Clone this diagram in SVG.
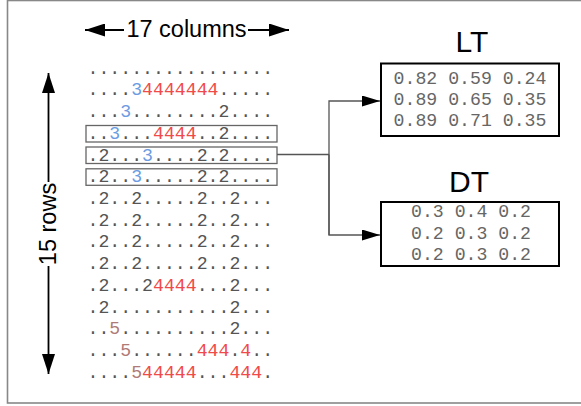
<svg xmlns="http://www.w3.org/2000/svg" width="581" height="406" viewBox="0 0 581 406">
  <style>
    .grid { font-family: "Liberation Mono", "Courier New", monospace; font-size: 18.2px; fill: #555; }
    .dots { fill: #333; }
    .c3 { fill: #6b9be2; }
    .c4 { fill: #f04a4a; }
    .c5 { fill: #b07a76; }
    .mat { font-family: "Liberation Mono", "Courier New", monospace; font-size: 18.2px; fill: #666; text-anchor: middle; }
    .title { font-family: "Liberation Sans", Arial, sans-serif; font-size: 30px; fill: #000; text-anchor: middle; }
    .dim { font-family: "Liberation Sans", Arial, sans-serif; font-size: 23.5px; fill: #000; text-anchor: middle; }
    .rowbox { fill: none; stroke: #666; stroke-width: 1.3; }
    .matbox { fill: #fff; stroke: #000; stroke-width: 2; }
    .conn { fill: none; stroke: #555; stroke-width: 1.3; }
    .dimline { fill: none; stroke: #000; stroke-width: 1.8; }
  </style>
  <defs>
    <marker id="head" viewBox="0 0 18 11" refX="18" refY="5.5" markerWidth="18" markerHeight="11" markerUnits="userSpaceOnUse" orient="auto">
      <path d="M0,0 L18,5.5 L0,11 Z" fill="#000"/>
    </marker>
    <marker id="dimhead" viewBox="0 0 20 13" refX="20" refY="6.5" markerWidth="20" markerHeight="13" markerUnits="userSpaceOnUse" orient="auto">
      <path d="M0,0 L20,6.5 L0,13 Z" fill="#000"/>
    </marker>
  </defs>

  <!-- page frame -->
  <rect x="7.5" y="0.5" width="600" height="402.5" fill="#fff" stroke="#888" stroke-width="1.6"/>

  <!-- dimension: columns -->
  <g id="dim-columns">
    <line class="dimline" x1="124" y1="30" x2="85" y2="30" marker-end="url(#dimhead)"/>
    <line class="dimline" x1="248" y1="30" x2="289" y2="30" marker-end="url(#dimhead)"/>
    <text class="dim" x="186.5" y="37">17 columns</text>
  </g>

  <!-- dimension: rows -->
  <g id="dim-rows">
    <line class="dimline" x1="48.5" y1="182" x2="48.5" y2="73" marker-end="url(#dimhead)"/>
    <line class="dimline" x1="48.5" y1="266" x2="48.5" y2="374" marker-end="url(#dimhead)"/>
    <text class="dim" transform="translate(56,224) rotate(-90)" x="0" y="0">15 rows</text>
  </g>

  <!-- board grid, 17 x 15 -->
  <g id="grid" class="grid">
    <text x="87.5" y="73.5">.................</text>
    <text x="87.5" y="95.2">....<tspan class="c3">3</tspan><tspan class="c4">4444444</tspan>.....</text>
    <text x="87.5" y="117">...<tspan class="c3">3</tspan>........2....</text>
    <text x="87.5" y="138.7">..<tspan class="c3">3</tspan>...<tspan class="c4">4444</tspan>..2....</text>
    <text x="87.5" y="160.5">.2...<tspan class="c3">3</tspan>....2.2....</text>
    <text x="87.5" y="182.2">.2..<tspan class="c3">3</tspan>.....2.2....</text>
    <text x="87.5" y="203.9">.2..2.....2..2...</text>
    <text x="87.5" y="225.7">.2..2.....2..2...</text>
    <text x="87.5" y="247.4">.2..2.....2..2...</text>
    <text x="87.5" y="269.2">.2..2.....2..2...</text>
    <text x="87.5" y="290.9">.2...2<tspan class="c4">4444</tspan>...2...</text>
    <text x="87.5" y="312.6">.2...........2...</text>
    <text x="87.5" y="334.4">..<tspan class="c5">5</tspan>..........2...</text>
    <text x="87.5" y="356.1">...<tspan class="c5">5</tspan>......<tspan class="c4">444</tspan>.<tspan class="c4">4</tspan>..</text>
    <text x="87.5" y="377.8">....<tspan class="c5">5</tspan><tspan class="c4">44444</tspan>...<tspan class="c4">444</tspan>.</text>
  </g>

  <!-- highlighted rows -->
  <g id="row-highlights">
    <rect class="rowbox" x="86" y="125.5" width="191" height="16.5"/>
    <rect class="rowbox" x="86" y="147" width="191" height="16.5"/>
    <rect class="rowbox" x="86" y="168.8" width="191" height="16.5"/>
  </g>

  <!-- connectors -->
  <g id="connectors">
    <polyline class="conn" points="277,154.5 329,154.5"/>
    <polyline class="conn" points="329,235 329,101 380,101" marker-end="url(#head)"/>
    <polyline class="conn" points="329,154.5 329,235 380,235" marker-end="url(#head)"/>
  </g>

  <!-- LT table -->
  <g id="LT">
    <text class="title" x="472" y="52">LT</text>
    <rect class="matbox" x="381" y="63.5" width="178" height="72.5"/>
    <text class="mat" x="470" y="84">0.82 0.59 0.24</text>
    <text class="mat" x="470" y="105">0.89 0.65 0.35</text>
    <text class="mat" x="470" y="126">0.89 0.71 0.35</text>
  </g>

  <!-- DT table -->
  <g id="DT">
    <text class="title" x="469" y="192">DT</text>
    <rect class="matbox" x="381" y="202" width="178" height="64"/>
    <text class="mat" x="471" y="217">0.3 0.4 0.2</text>
    <text class="mat" x="471" y="239">0.2 0.3 0.2</text>
    <text class="mat" x="471" y="260">0.2 0.3 0.2</text>
  </g>
</svg>
